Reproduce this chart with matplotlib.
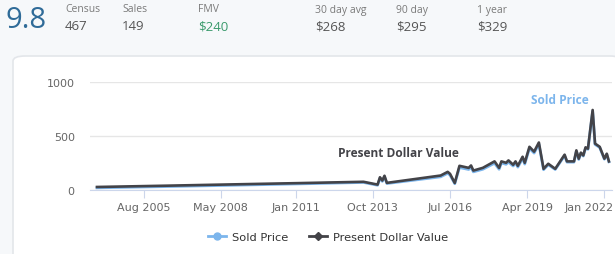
#!/usr/bin/env python3
"""
Card price history chart (Sold Price vs Present Dollar Value)
"""

import pandas as pd
import matplotlib.pyplot as plt
import matplotlib.dates as mdates
import matplotlib.transforms as mtransforms
from matplotlib.lines import Line2D
from matplotlib.patches import FancyBboxPatch

# header stats
score = '9.8'
stat_labels = ['Census', 'Sales', 'FMV', '30 day avg', '90 day', '1 year']
stat_values = ['467', '149', '$240', '$268', '$295', '$329']

# price history
dates = ['2003-12', '2006-06', '2008-10', '2011-03', '2013-06', '2013-12', '2014-01',
         '2014-02', '2014-03', '2014-04', '2016-03', '2016-06', '2016-07', '2016-09',
         '2016-11', '2017-03', '2017-04', '2017-05', '2017-09', '2018-02', '2018-04',
         '2018-05', '2018-07', '2018-08', '2018-10', '2018-11', '2018-12', '2019-02',
         '2019-03', '2019-05', '2019-07', '2019-09', '2019-11', '2020-01', '2020-04',
         '2020-08', '2020-09', '2020-12', '2021-01', '2021-02', '2021-03', '2021-04',
         '2021-05', '2021-06', '2021-08', '2021-09', '2021-11', '2022-01', '2022-02',
         '2022-03']
present_value = [28, 40, 52, 64, 76, 50, 118, 88, 132, 66, 134, 168, 150, 65,
                 224, 205, 227, 180, 205, 265, 205, 265, 252, 274, 234, 265, 224, 308,
                 252, 400, 355, 440, 196, 243, 196, 327, 265, 265, 367, 290, 346, 320,
                 395, 383, 741, 430, 400, 290, 336, 265]
sold_price = [20, 32, 44, 57, 70, 44, 108, 80, 122, 60, 122, 155, 138, 58,
              208, 190, 212, 168, 192, 248, 192, 250, 238, 258, 222, 252, 212, 292,
              240, 385, 342, 425, 188, 234, 190, 318, 258, 258, 358, 283, 338, 314,
              388, 377, 728, 422, 393, 285, 331, 261]

xtick_dates = ['2005-08', '2008-05', '2011-01', '2013-10', '2016-07', '2019-04', '2022-01']
xtick_labels = ['Aug 2005', 'May 2008', 'Jan 2011', 'Oct 2013', 'Jul 2016', 'Apr 2019', 'Jan 2022']

SOLD = '#7cb5ec'
PDV = '#434348'


def criar_grafico():
    fig = plt.figure(figsize=(6.15, 2.55), dpi=100, facecolor='#f6f8fa')
    W, H = 615, 255

    # white card behind the chart
    card = FancyBboxPatch((13 / W, -0.2), 0.99, 1 - 57 / H + 0.2,
                          boxstyle='round,pad=0,rounding_size=0.02',
                          transform=fig.transFigure, facecolor='white',
                          edgecolor='#e3e6ea', linewidth=1.2, zorder=-5)
    fig.patches.append(card)

    # header
    hfont = 'Open Sans'
    fig.text(5 / W, 1 - 21 / H, score, fontsize=21, color='#2f6b98',
             family=hfont, va='center', ha='left')
    xs = [65, 122, 198, 315, 396, 477]
    for x, lab, val in zip(xs, stat_labels, stat_values):
        fig.text(x / W, 1 - 10 / H, lab, fontsize=7.5, color='#7a7a7a',
                 family=hfont, va='center', ha='left')
        col = '#3a9a6c' if lab == 'FMV' else '#555555'
        fig.text(x / W, 1 - 27 / H, val, fontsize=9.5, color=col,
                 family=hfont, va='center', ha='left')

    # chart area
    ax = fig.add_axes([90 / W, 1 - 191 / H, 522 / W, 108 / H])
    ax.set_facecolor('none')
    d = mdates.date2num(pd.to_datetime(dates))
    ax.plot(d, sold_price, color=SOLD, linewidth=2, zorder=2)
    ax.plot(d, present_value, color=PDV, linewidth=1.9, zorder=3)

    ax.set_xlim(mdates.date2num(pd.Timestamp('2003-09-01')),
                mdates.date2num(pd.Timestamp('2022-04-10')))
    ax.set_ylim(0, 1000)
    ax.set_yticks([0, 500, 1000])
    ax.set_yticklabels(['0', '500', '1000'])
    ax.set_xticks(mdates.date2num(pd.to_datetime(xtick_dates)))
    ax.set_xticklabels(xtick_labels)
    ax.grid(axis='y', color='#e6e6e6', linewidth=1)
    ax.set_axisbelow(True)
    for s in ['top', 'right', 'left']:
        ax.spines[s].set_visible(False)
    ax.spines['bottom'].set_color('#ccd6eb')
    ax.tick_params(axis='x', length=6, color='#ccd6eb', labelsize=8,
                   labelcolor='#666666', pad=3)
    ax.tick_params(axis='y', length=0, labelsize=8, labelcolor='#666666', pad=11)

    # last label kept inside the chart, like the original
    last = ax.get_xticklabels()[-1]
    last.set_ha('right')
    last.set_transform(last.get_transform() +
                       mtransforms.ScaledTranslation(9 / 100, 0, fig.dpi_scale_trans))

    # data labels
    ax.text(mdates.date2num(pd.Timestamp('2020-06-01')), 842, 'Sold Price',
            color=SOLD, fontsize=8.6, fontweight='bold', family='Open Sans',
            ha='center', va='center')
    ax.text(mdates.date2num(pd.Timestamp('2014-09-01')), 345, 'Present Dollar Value',
            color=PDV, fontsize=8.6, fontweight='bold', family='Open Sans',
            ha='center', va='center')

    # legend
    handles = [Line2D([], [], color=SOLD, marker='o', markersize=5, linewidth=2),
               Line2D([], [], color=PDV, marker='D', markersize=4, linewidth=2)]
    fig.legend(handles, ['Sold Price', 'Present Dollar Value'], loc='center',
               bbox_to_anchor=(328 / W, 1 - 238 / H), ncol=2, frameon=False,
               fontsize=8.2, labelcolor='#333333', handlelength=1.6,
               columnspacing=1.8, handletextpad=0.5)

    plt.savefig('out.png', dpi=100, facecolor=fig.get_facecolor())
    plt.close()


if __name__ == "__main__":
    criar_grafico()
